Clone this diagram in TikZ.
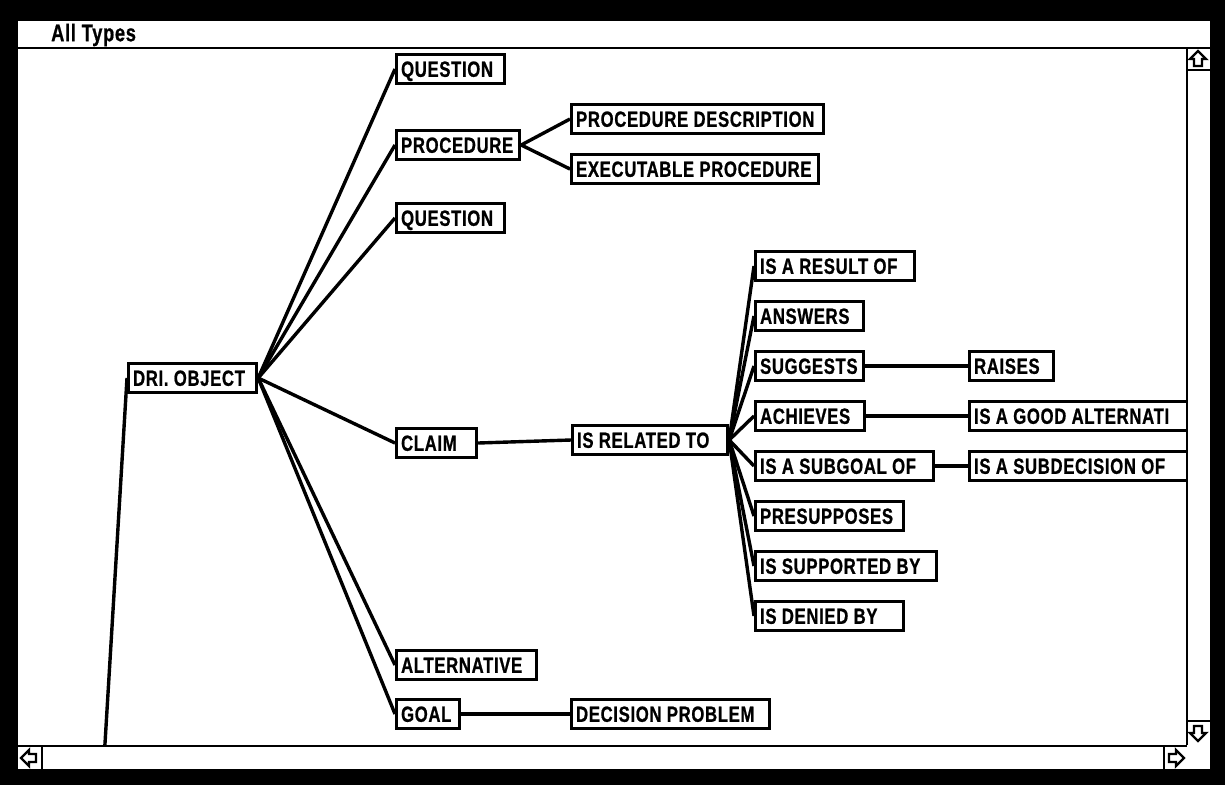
\documentclass[tikz,border=0pt]{standalone}
\usepackage{fontspec}
\setmainfont{Liberation Sans}[FakeStretch=0.76, FakeBold=0.8, LetterSpace=3]
% a framed label box: name, left x, centre y, outer width, text
\newcommand\tbox[5]{\node[bx] (#1) at (#2,#3) {\makebox[\dimexpr #4pt-9pt\relax][l]{#5}};}
\begin{document}
\begin{tikzpicture}[x=1pt,y=-1pt,
  bx/.style={draw, line width=3.2pt, fill=white, inner xsep=4.5pt, inner ysep=0pt,
    minimum height=29pt, text height=15.6pt, text depth=0pt, anchor=west,
    font=\bfseries\fontsize{22}{22}\selectfont},
  link/.style={line width=3.4pt},
  frame/.style={line width=2.4pt},
  arrowshape/.style={line width=2.4pt, line join=miter}]
\useasboundingbox (0,0) rectangle (1225,785);
% window frame and content area
\fill[black] (0,0) rectangle (1225,785);
\fill[white] (18,21) rectangle (1210,769);
\node[anchor=west, inner sep=0pt, font=\bfseries\fontsize{24}{24}\selectfont] (title) at (51,35) {All Types};
\draw[frame] (18,48) -- (1210,48);

% type nodes
\tbox{q1}{395}{69}{108}{QUESTION}
\tbox{proc}{395}{145}{123}{PROCEDURE}
\tbox{pdesc}{570}{119}{252}{PROCEDURE DESCRIPTION}
\tbox{exec}{570}{169}{247}{EXECUTABLE PROCEDURE}
\tbox{q2}{395}{218}{108}{QUESTION}
\tbox{dri}{127}{378}{128}{DRI. OBJECT}
\tbox{claim}{395}{443}{80}{CLAIM}
\tbox{rel}{571}{440}{155}{IS RELATED TO}
\tbox{res}{754}{266}{159}{IS A RESULT OF}
\tbox{ans}{754}{316}{108}{ANSWERS}
\tbox{sug}{754}{366}{108}{SUGGESTS}
\tbox{raises}{968}{366}{84}{RAISES}
\tbox{ach}{754}{416}{109}{ACHIEVES}
\tbox{good}{968}{416}{240}{IS A GOOD ALTERNATI}
\tbox{subg}{754}{466}{178}{IS A SUBGOAL OF}
\tbox{subd}{968}{466}{240}{IS A SUBDECISION OF}
\tbox{pres}{754}{516}{148}{PRESUPPOSES}
\tbox{supp}{754}{566}{181}{IS SUPPORTED BY}
\tbox{den}{754}{616}{148}{IS DENIED BY}
\tbox{alt}{395}{665}{140}{ALTERNATIVE}
\tbox{goal}{395}{714}{63}{GOAL}
\tbox{dec}{570}{714}{198}{DECISION PROBLEM}

% parent lying below the visible area
\coordinate (below) at (104,760);

% connectors
\draw[link] (below) -- (dri.west);
\foreach \c in {q1,proc,q2,claim,alt,goal} \draw[link] (dri.east) -- (\c.west);
\foreach \c in {pdesc,exec} \draw[link] (proc.east) -- (\c.west);
\draw[link] (claim.east) -- (rel.west);
\foreach \c in {res,ans,sug,ach,subg,pres,supp,den} \draw[link] (rel.east) -- (\c.west);
\draw[link] (sug.east) -- (raises.west);
\draw[link] (ach.east) -- (good.west);
\draw[link] (subg.east) -- (subd.west);
\draw[link] (goal.east) -- (dec.west);

% scroll bars
\fill[white] (1187,49) rectangle (1210,769);
\fill[white] (18,746) rectangle (1210,769);
\draw[frame] (1187,48) -- (1187,745);
\draw[frame] (1187,70) -- (1210,70);
\draw[frame] (1187,721) -- (1210,721);
\draw[frame] (18,746) -- (1187,746);
\draw[frame] (42,746) -- (42,769);
\draw[frame] (1164,746) -- (1164,769);
% scroll arrows
\foreach \p/\r in {{(1198,59)}/0, {(1198,733)}/180, {(29,758)}/90, {(1176,758)}/-90}
  \draw[arrowshape, shift={\p}, rotate=\r]
    (0,-8) -- (8,0) -- (4,0) -- (4,7) -- (-4,7) -- (-4,0) -- (-8,0) -- cycle;
\end{tikzpicture}
\end{document}
